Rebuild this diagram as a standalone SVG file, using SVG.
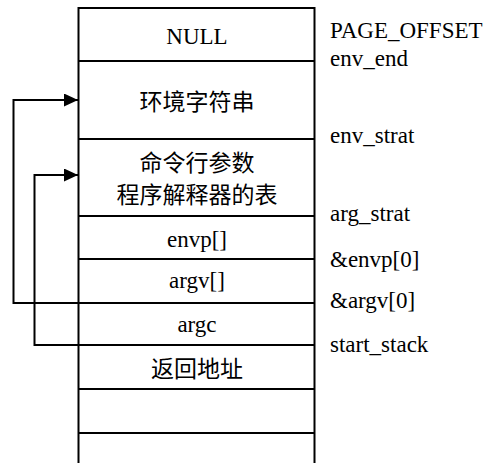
<svg xmlns="http://www.w3.org/2000/svg" width="491" height="463" viewBox="0 0 491 463">
  <style>
    .cell { fill: none; stroke: #000; stroke-width: 2; }
    .link { fill: none; stroke: #000; stroke-width: 2; }
    text { font-family: "Liberation Serif", "Noto Sans CJK SC", serif; font-size: 23px; fill: #000; }
    .mid { text-anchor: middle; }
  </style>
  <defs>
    <marker id="arrow" viewBox="0 0 14 13" refX="14" refY="6.5" markerWidth="14" markerHeight="13" markerUnits="userSpaceOnUse" orient="auto">
      <path d="M0,0 L14,6.5 L0,13 Z" fill="#000"/>
    </marker>
  </defs>
  <rect width="491" height="463" fill="#fff"/>

  <!-- stack frame outline -->
  <g id="stack">
    <path class="cell" d="M78.5,463 V8 H314.5 V463"/>
  </g>

  <!-- stack cells -->
  <g id="null">
    <text class="mid" x="197" y="44">NULL</text>
  </g>
  <g id="env-strings">
    <line class="cell" x1="78.5" y1="61" x2="314.5" y2="61"/>
    <text class="mid" x="197" y="110">环境字符串</text>
  </g>
  <g id="arg-strings">
    <line class="cell" x1="78.5" y1="139" x2="314.5" y2="139"/>
    <text class="mid" x="197" y="171">命令行参数</text>
    <text class="mid" x="197" y="203">程序解释器的表</text>
  </g>
  <g id="envp">
    <line class="cell" x1="78.5" y1="216" x2="314.5" y2="216"/>
    <text class="mid" x="197" y="247">envp[]</text>
  </g>
  <g id="argv">
    <line class="cell" x1="78.5" y1="259" x2="314.5" y2="259"/>
    <text class="mid" x="197" y="288">argv[]</text>
  </g>
  <g id="argc">
    <line class="cell" x1="78.5" y1="303" x2="314.5" y2="303"/>
    <text class="mid" x="197" y="332">argc</text>
  </g>
  <g id="return-addr">
    <line class="cell" x1="78.5" y1="345" x2="314.5" y2="345"/>
    <text class="mid" x="197" y="377">返回地址</text>
  </g>
  <g id="empty-1">
    <line class="cell" x1="78.5" y1="389" x2="314.5" y2="389"/>
  </g>
  <g id="empty-2">
    <line class="cell" x1="78.5" y1="433" x2="314.5" y2="433"/>
  </g>

  <!-- address labels -->
  <g id="labels">
    <text x="330" y="38">PAGE_OFFSET</text>
    <text x="330" y="66">env_end</text>
    <text x="330" y="143">env_strat</text>
    <text x="330" y="221">arg_strat</text>
    <text x="330" y="267">&amp;envp[0]</text>
    <text x="330" y="308">&amp;argv[0]</text>
    <text x="330" y="352">start_stack</text>
  </g>

  <!-- pointers from envp[] and argv[] to their strings -->
  <g id="connectors">
    <path class="link" d="M78.5,303 H13.5 V100 H78" marker-end="url(#arrow)"/>
    <path class="link" d="M78.5,345 H34.5 V175 H78" marker-end="url(#arrow)"/>
  </g>
</svg>
